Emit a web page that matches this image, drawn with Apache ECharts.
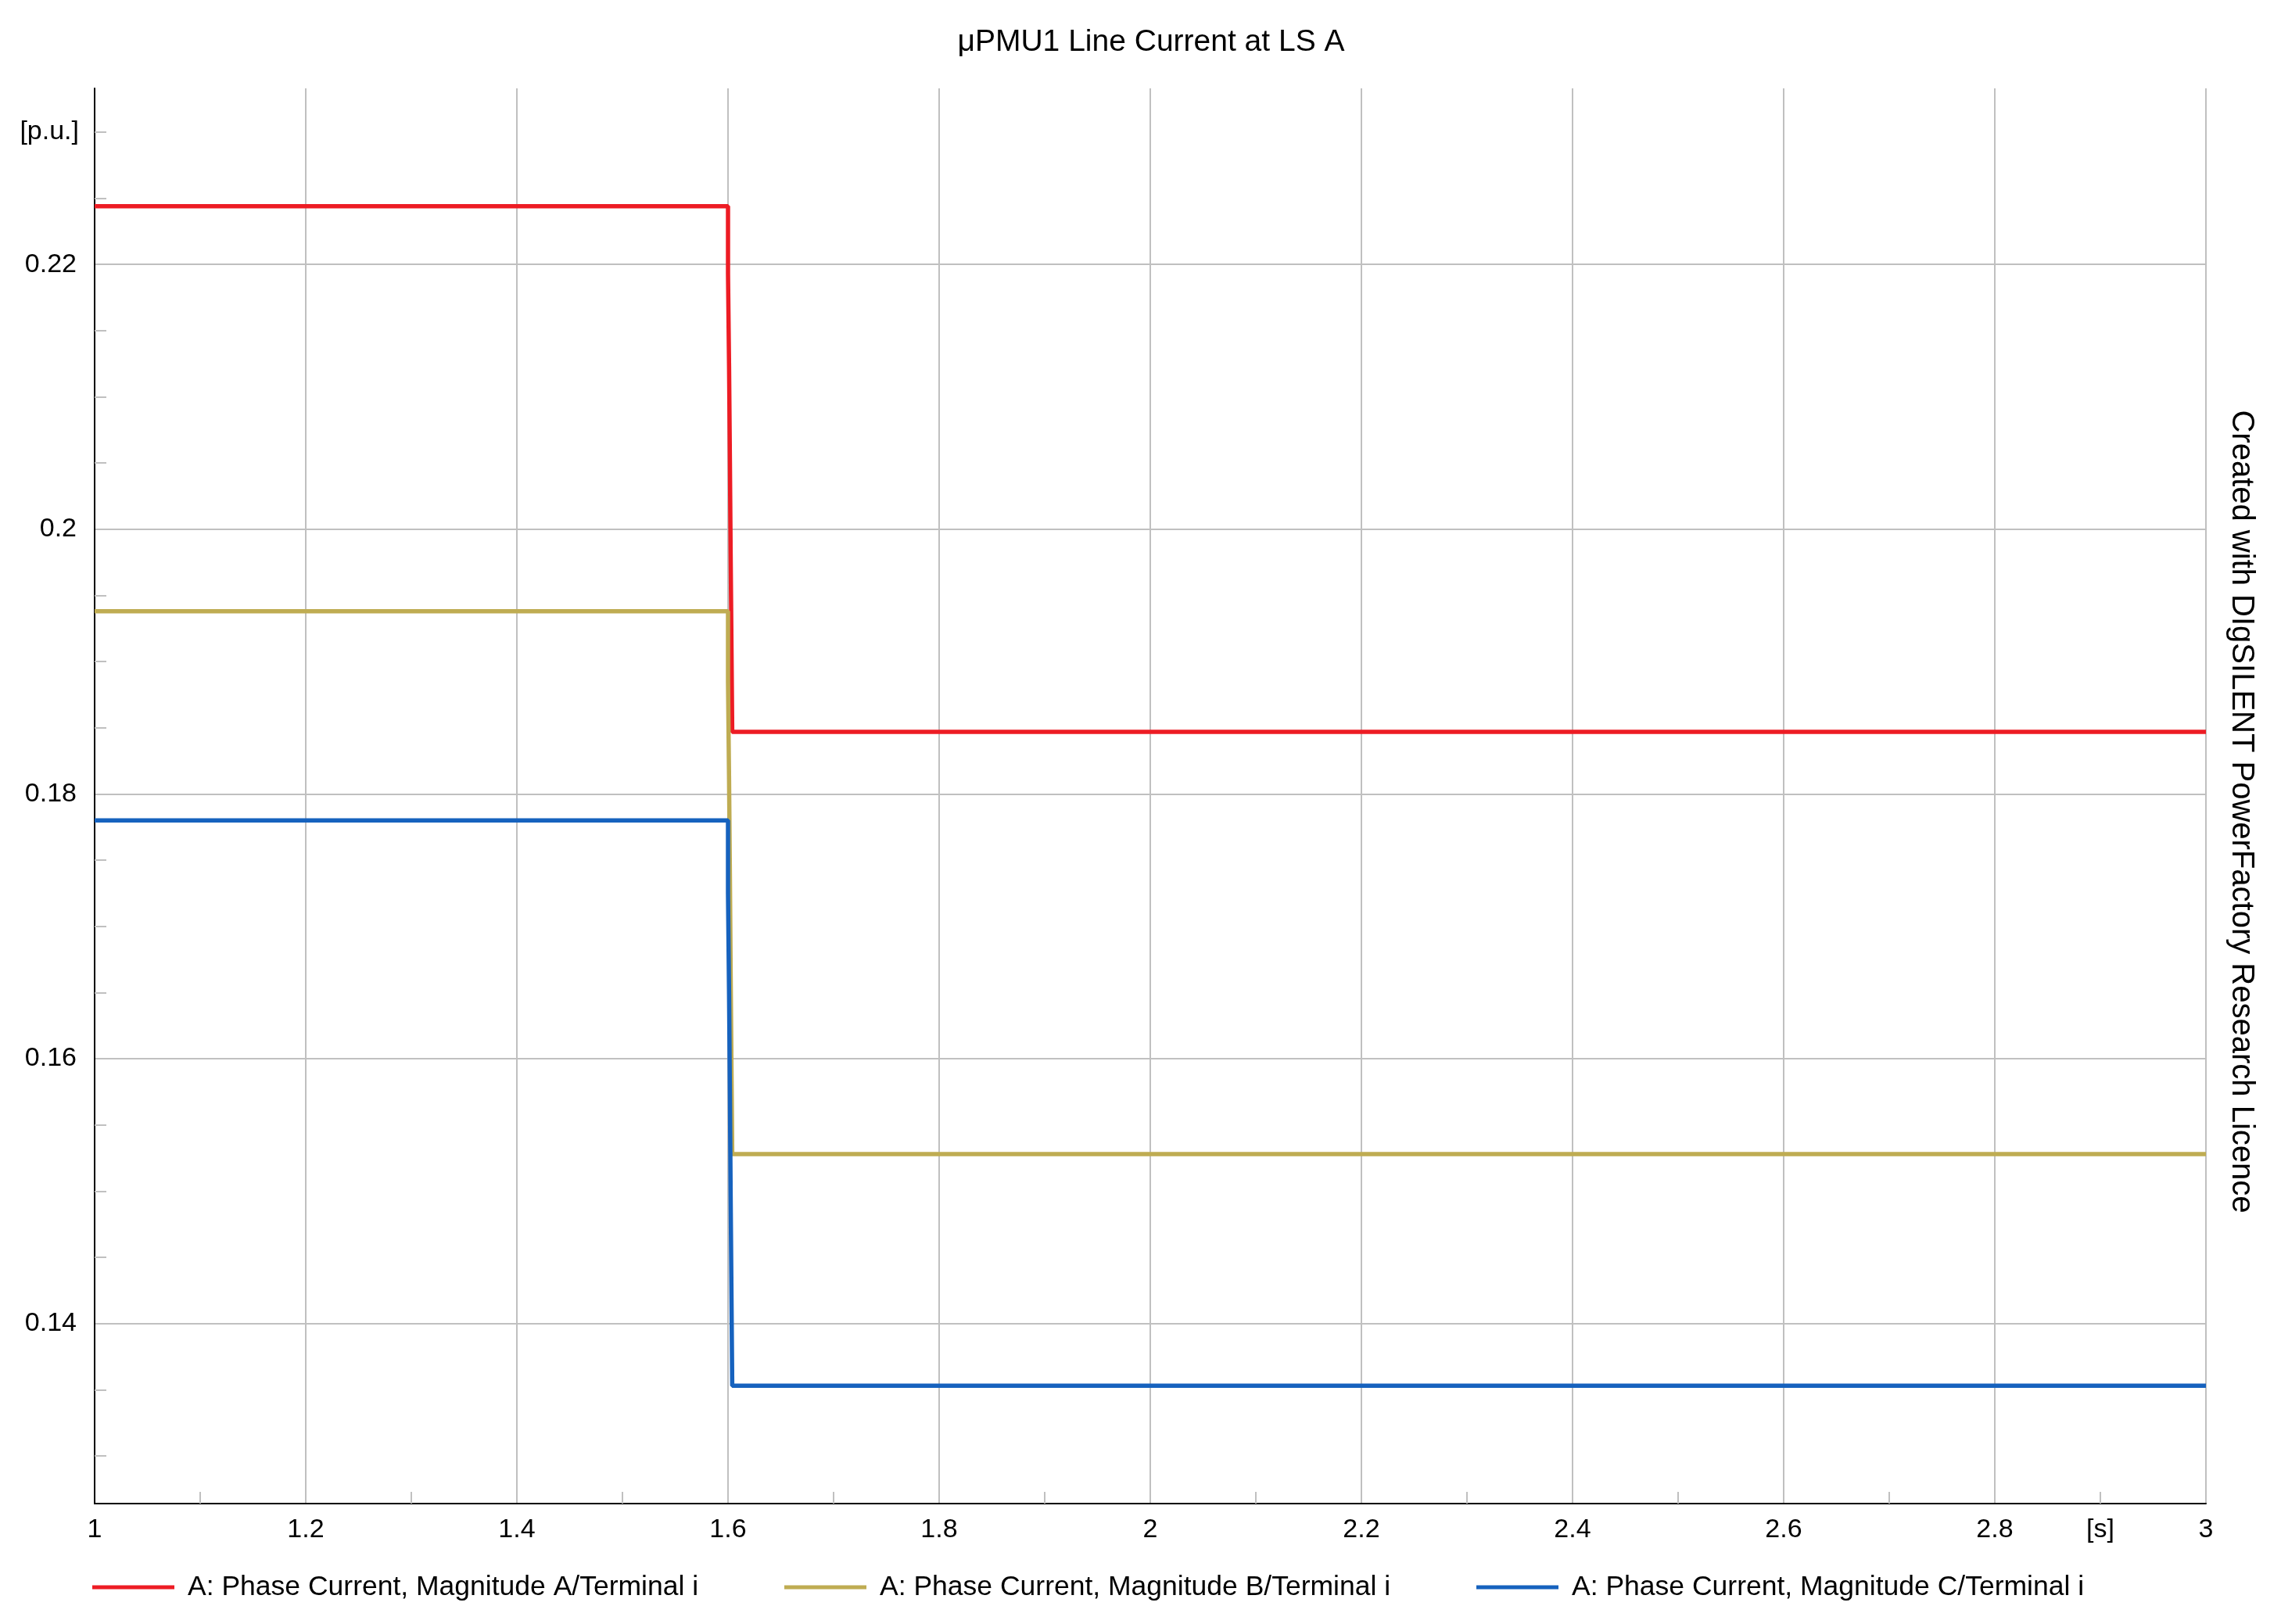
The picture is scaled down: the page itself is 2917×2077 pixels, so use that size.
<!DOCTYPE html>
<html>
<head>
<meta charset="utf-8">
<script src="https://cdn.jsdelivr.net/npm/echarts@6/dist/echarts.min.js"></script>
<style>html,body{margin:0;padding:0;background:#fff}#c{width:2917px;height:2077px}</style>
</head>
<body>
<div id="c"></div>
<script>
// ---- data ----
const chartTitle = 'μPMU1 Line Current at LS A';
const sideNote = 'Created with DIgSILENT PowerFactory Research Licence';
const seriesNames = [
  'A: Phase Current, Magnitude A/Terminal i',
  'A: Phase Current, Magnitude B/Terminal i',
  'A: Phase Current, Magnitude C/Terminal i'
];
const seriesColors = ['#ED1C24', '#BFAC52', '#1662BE'];
// time instants [s] (value held from each instant onward)
const timeS = [1.0, 1.6, 1.6010, 1.6018, 1.6025, 1.6033, 1.6040, 3.0];
const phaseA = [0.2244, 0.2193, 0.2123, 0.2051, 0.1981, 0.1910, 0.1847, 0.1847];
const phaseB = [0.1938, 0.1885, 0.1811, 0.1738, 0.1665, 0.1592, 0.1528, 0.1528];
const phaseC = [0.1780, 0.1725, 0.1649, 0.1573, 0.1496, 0.1419, 0.1353, 0.1353];
const yMajorLabels = [0.14, 0.16, 0.18, 0.2, 0.22];
const yMinorTicks = [0.13, 0.135, 0.145, 0.15, 0.155, 0.165, 0.17, 0.175, 0.185, 0.19, 0.195, 0.205, 0.21, 0.215, 0.225, 0.23];
const yRange = [0.1264, 0.2333];
const xRange = [1, 3];
const xUnit = '[s]', xUnitAt = 2.9;
const yUnit = '[p.u.]', yUnitAt = 0.23;

// ---- chart ----
const FONT = 'Liberation Sans, Arial, Helvetica, sans-serif';
const TICK_FS = 34;
const GRID = {left: 121, right: 96, top: 113, bottom: 154};
const chart = echarts.init(document.getElementById('c'), null, {renderer: 'canvas'});
const allValues = [phaseA, phaseB, phaseC];
const legendLefts = [118, 1003, 1888];

const option = {
  animation: false,
  backgroundColor: '#ffffff',
  textStyle: {fontFamily: FONT},
  title: {
    text: chartTitle,
    left: 1472, top: 35, textAlign: 'center', padding: 0,
    textStyle: {fontFamily: FONT, fontSize: 39, fontWeight: 'normal', color: '#000'}
  },
  legend: seriesNames.map((n, i) => ({
    left: legendLefts[i], top: 2012, padding: 0,
    itemWidth: 105, itemHeight: 5,
    selectedMode: false,
    data: [{name: n, icon: 'rect'}],
    textStyle: {fontFamily: FONT, fontSize: 35.5, color: '#000', padding: [0, 0, 0, 12]}
  })),
  grid: GRID,
  xAxis: {
    type: 'value', min: xRange[0], max: xRange[1], interval: 0.2,
    axisLine: {show: true, onZero: false, lineStyle: {color: '#000', width: 2}},
    axisTick: {show: false, inside: true},
    minorTick: {show: true, splitNumber: 2, length: 15, lineStyle: {color: '#C0C0C0', width: 2}},
    splitLine: {show: true, lineStyle: {color: '#C0C0C0', width: 2}},
    axisLabel: {fontFamily: FONT, fontSize: TICK_FS, color: '#000', margin: 17}
  },
  yAxis: [{
    type: 'value', min: yRange[0], max: yRange[1], splitNumber: 5,
    axisLine: {show: true, onZero: false, lineStyle: {color: '#000', width: 2}},
    axisTick: {show: false},
    splitLine: {show: true, showMinLine: false, showMaxLine: false, lineStyle: {color: '#C0C0C0', width: 2}},
    axisLabel: {fontFamily: FONT, fontSize: TICK_FS, color: '#000', margin: 23, customValues: yMajorLabels}
  }, {
    type: 'value', min: yRange[0], max: yRange[1], position: 'left',
    axisLine: {show: false},
    axisLabel: {show: false},
    splitLine: {show: false},
    axisTick: {show: true, inside: true, length: 15, customValues: yMinorTicks, lineStyle: {color: '#C0C0C0', width: 2}}
  }],
  series: seriesNames.map((n, i) => ({
    name: n, type: 'line', step: 'end', showSymbol: false, symbol: 'none',
    xAxisIndex: 0, yAxisIndex: 0,
    color: seriesColors[i],
    lineStyle: {width: 5.5, color: seriesColors[i]},
    data: timeS.map((t, k) => [t, allValues[i][k]])
  }))
};
chart.setOption(option);

// unit labels and side note placed through the axes' own scales
const xs = chart.convertToPixel({xAxisIndex: 0}, xUnitAt);
const yBottom = chart.convertToPixel({yAxisIndex: 0}, yRange[0]);
const xLeft = chart.convertToPixel({xAxisIndex: 0}, xRange[0]);
const yu = chart.convertToPixel({yAxisIndex: 0}, yUnitAt);
chart.setOption({
  graphic: [
    {type: 'text', x: xs, y: yBottom + 17, style: {text: xUnit, fontFamily: FONT, fontSize: TICK_FS, fill: '#000', align: 'center', verticalAlign: 'top'}},
    {type: 'text', x: xLeft - 20, y: yu, style: {text: yUnit, fontFamily: FONT, fontSize: TICK_FS, fill: '#000', align: 'right', verticalAlign: 'middle'}},
    {type: 'text', x: 2866, y: 1038, rotation: -Math.PI / 2, style: {text: sideNote, fontFamily: FONT, fontSize: 40, fill: '#000', align: 'center', verticalAlign: 'middle'}}
  ]
});
</script>
</body>
</html>
